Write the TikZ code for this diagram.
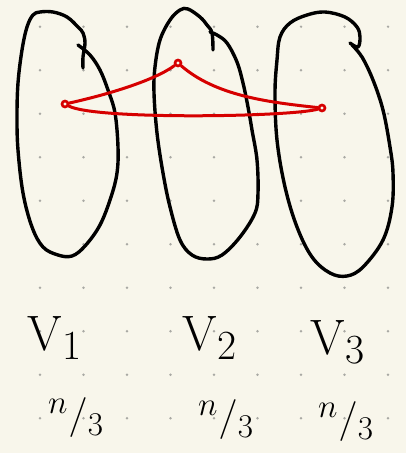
\documentclass[tikz,border=0pt]{standalone}
\usepackage{tikz}
\usetikzlibrary{positioning, arrows.meta}
\definecolor{paper}{HTML}{F8F6EB}
\definecolor{dotgray}{HTML}{A9A9A4}
\definecolor{penred}{HTML}{D60000}

\begin{document}
\begin{tikzpicture}[x=1pt, y=-1pt,
    blob/.style={draw=black, line width=3.4pt, line cap=round, line join=round},
    edge/.style={draw=penred, line width=3pt, line cap=round},
    vertex/.style={circle, draw=penred, line width=2.6pt, inner sep=0pt, minimum size=6pt},
    setlabel/.style={font=\Huge, scale=2},
    sizelabel/.style={font=\Huge, scale=1.6}]
    \fill[paper] (0,0) rectangle (406,453);
    \useasboundingbox (0,0) rectangle (406,453);
    \foreach \i in {0,...,8}
      \foreach \j in {0,...,9}
        \fill[dotgray] (40+43.5*\i, 26.7+43.5*\j) circle (1.3pt);

    \draw[blob] plot[smooth, tension=0.6] coordinates {
      (83,68) (83,57) (85,43) (83,33) (78,27) (67,17) (53,12) (40,12) (33,15)
      (27,27) (22,50) (18,83) (17,117) (18,150) (23,193) (32,227) (43,247)
      (58,255) (72,256) (85,246) (100,225) (111,197) (117,173) (118,147)
      (115,113) (108,90) (100,70) (90,55) (78,45)};
    \draw[blob] plot[smooth, tension=0.6] coordinates {
      (213,50) (212,33) (207,25) (200,17) (188,9) (180,10) (170,20) (160,40)
      (155,67) (154,93) (157,133) (163,173) (170,207) (180,240) (192,255)
      (207,259) (222,255) (240,237) (255,213) (258,193) (257,160) (252,130)
      (248,107) (243,83) (237,62) (227,43) (217,35) (210,32)};
    \draw[blob] plot[smooth, tension=0.6] coordinates {
      (350,43) (358,47) (360,37) (357,27) (345,17) (325,12) (307,15) (290,23)
      (280,37) (277,60) (275,93) (277,140) (285,187) (297,227) (312,257)
      (330,273) (347,276) (363,267) (383,240) (392,207) (393,173) (390,147)
      (383,110) (373,80) (362,57) (352,45)};

    \node[vertex] (a) at (65,104) {};
    \node[vertex] (b) at (178,63) {};
    \node[vertex] (c) at (322,108) {};
    \draw[edge] (a) .. controls (110,94) and (155,80) .. (b);
    \draw[edge] (b) .. controls (215,95) and (265,102) .. (c);
    \draw[edge] (a) .. controls (95,120) and (290,117) .. (c);

    \node[setlabel] (l1) at (55,338) {$\mathrm{V}_1$};
    \node[setlabel] (l2) at (210,338) {$\mathrm{V}_2$};
    \node[setlabel] (l3) at (338,342) {$\mathrm{V}_3$};
    \node[sizelabel] (s1) at (76,418) {${}^{n}/_{3}$};
    \node[sizelabel] (s2) at (226,420) {${}^{n}/_{3}$};
    \node[sizelabel] (s3) at (346,422) {${}^{n}/_{3}$};
\end{tikzpicture}
\end{document}
